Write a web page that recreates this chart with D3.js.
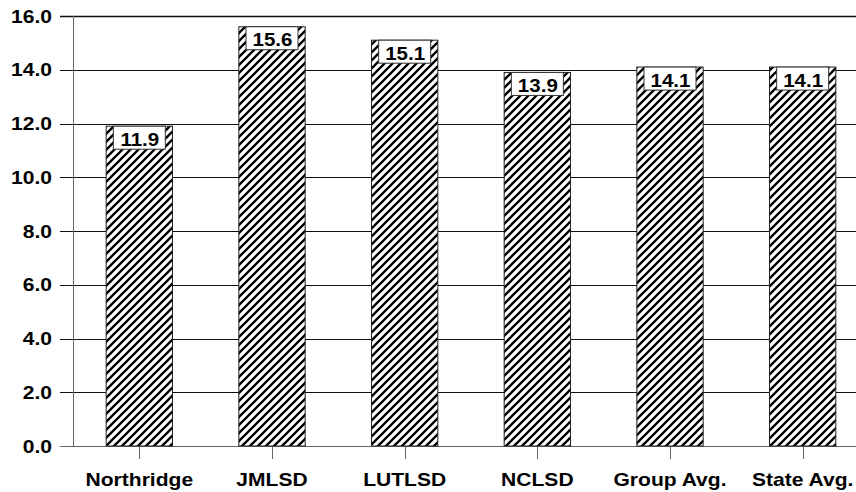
<!DOCTYPE html>
<html>
<head>
<meta charset="utf-8">
<script src="https://cdn.jsdelivr.net/npm/d3@7"></script>
<style>
  body { margin: 0; background: #fff; }
  svg { display: block; }
  text { font-family: "Liberation Sans", Arial, sans-serif; font-weight: bold; fill: #000; }
</style>
</head>
<body>
<svg width="856" height="492"></svg>
<script>
// chart data
var categories = ["Northridge", "JMLSD", "LUTLSD", "NCLSD", "Group Avg.", "State Avg."];
var values = [11.9, 15.6, 15.1, 13.9, 14.1, 14.1];
var yTicks = [0, 2, 4, 6, 8, 10, 12, 14, 16];

var svg = d3.select("svg"),
    plotLeft = 73, plotRight = 869, plotTop = 16, plotBottom = 446;

var x = d3.scaleBand().domain(categories).range([plotLeft, plotRight])
          .paddingInner(0.5).paddingOuter(0.25),
    y = d3.scaleLinear().domain([0, 16]).range([plotBottom, plotTop]);

// hatch pattern
var pat = svg.append("defs").append("pattern")
    .attr("id", "hatch")
    .attr("patternUnits", "userSpaceOnUse")
    .attr("width", 8).attr("height", 8);
pat.append("rect").attr("width", 8).attr("height", 8).attr("fill", "#fff");
pat.append("path")
    .attr("d", "M-2,2 l4,-4 M0,8 l8,-8 M6,10 l4,-4")
    .attr("stroke", "#000")
    .attr("stroke-width", 2.3);

// gridlines + y ticks
svg.append("g").selectAll("line")
    .data(yTicks)
    .enter().append("line")
    .attr("x1", 60).attr("x2", 856)
    .attr("y1", function(d) { return Math.round(y(d)) + 0.5; })
    .attr("y2", function(d) { return Math.round(y(d)) + 0.5; })
    .attr("stroke", function(d) { return d == 0 ? "#666" : "#111"; })
    .attr("stroke-width", function(d) { return d == 16 ? 1.6 : 1.1; });

svg.append("g").selectAll("text")
    .data(yTicks)
    .enter().append("text")
    .attr("transform", function(d) { return "translate(52," + (y(d) + 6.5) + ") scale(1.17,1)"; })
    .attr("text-anchor", "end")
    .attr("font-size", "18px")
    .text(function(d) { return d3.format(".1f")(d); });

// y axis line
svg.append("line")
    .attr("x1", plotLeft + 0.5).attr("x2", plotLeft + 0.5)
    .attr("y1", plotTop).attr("y2", plotBottom)
    .attr("stroke", "#666");

// x ticks
svg.append("g").selectAll("line")
    .data(categories)
    .enter().append("line")
    .attr("x1", function(d) { return Math.round(x(d) + x.bandwidth() / 2) + 0.5; })
    .attr("x2", function(d) { return Math.round(x(d) + x.bandwidth() / 2) + 0.5; })
    .attr("y1", plotBottom).attr("y2", plotBottom + 13)
    .attr("stroke", "#666");

svg.append("g").selectAll("text")
    .data(categories)
    .enter().append("text")
    .attr("transform", function(d) { return "translate(" + (x(d) + x.bandwidth() / 2) + ",486) scale(1.17,1)"; })
    .attr("text-anchor", "middle")
    .attr("font-size", "18px")
    .text(function(d) { return d; });

// bars
var bars = svg.append("g").selectAll("g")
    .data(categories)
    .enter().append("g");

bars.append("rect")
    .attr("x", function(d) { return x(d); })
    .attr("y", function(d, i) { return y(values[i]); })
    .attr("width", x.bandwidth())
    .attr("height", function(d, i) { return plotBottom - y(values[i]); })
    .attr("fill", "url(#hatch)")
    .attr("stroke", "#222")
    .attr("stroke-width", 1);

// value labels
bars.append("rect")
    .attr("x", function(d) { return x(d) + x.bandwidth() / 2 - 26; })
    .attr("y", function(d, i) { return y(values[i]); })
    .attr("width", 52).attr("height", 23)
    .attr("fill", "#fff")
    .attr("stroke", "#333");

bars.append("text")
    .attr("transform", function(d, i) { return "translate(" + (x(d) + x.bandwidth() / 2 + 0.5) + "," + (y(values[i]) + 19.5) + ") scale(1.14,1)"; })
    .attr("text-anchor", "middle")
    .attr("font-size", "18px")
    .text(function(d, i) { return values[i].toFixed(1); });
</script>
</body>
</html>
